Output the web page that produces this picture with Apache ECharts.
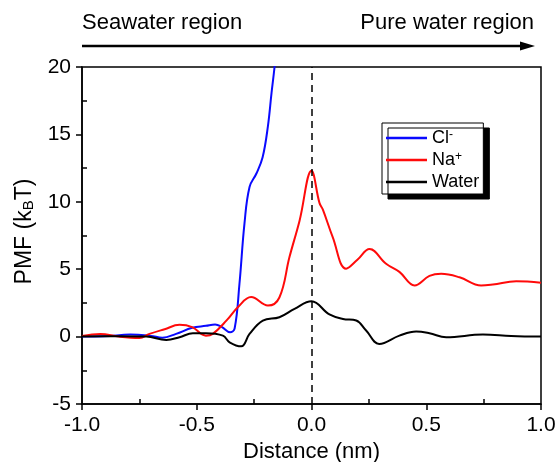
<!DOCTYPE html>
<html><head><meta charset="utf-8">
<script src="https://cdn.jsdelivr.net/npm/echarts@6/dist/echarts.min.js"></script>
<style>html,body{margin:0;padding:0;background:#fff}#c{width:556px;height:462px}</style>
</head><body><div id="c"></div>
<script>
// ---- data ----
const xTickLabels = ['-1.0', '-0.5', '0.0', '0.5', '1.0'];
const yTickLabels = ['-5', '0', '5', '10', '15', '20'];

const clX = [-1.0, -0.9, -0.79, -0.7, -0.65, -0.59, -0.52, -0.46, -0.42, -0.39, -0.355, -0.335, -0.314, -0.292, -0.27, -0.24, -0.213, -0.19, -0.174, -0.161, -0.15];
const clY = [0, 0.02, 0.15, 0.05, -0.08, 0.2, 0.65, 0.8, 0.9, 0.7, 0.32, 0.6, 3.9, 8.4, 11.1, 12.1, 13.3, 15.6, 18.1, 20, 22];

const naX = [-1.0, -0.92, -0.84, -0.75, -0.706, -0.64, -0.575, -0.52, -0.46, -0.43, -0.37, -0.32, -0.263, -0.19, -0.14, -0.096, -0.052, 0, 0.035, 0.05, 0.092, 0.151, 0.2, 0.253, 0.325, 0.383, 0.449, 0.514, 0.565, 0.645, 0.739, 0.79, 0.892, 1.0];
const naY = [0.05, 0.2, 0, -0.1, 0.2, 0.55, 0.87, 0.7, 0.07, 0.2, 1.2, 2.2, 2.93, 2.3, 2.9, 5.9, 8.6, 12.3, 9.9, 9.4, 7.4, 5.04, 5.7, 6.5, 5.4, 4.8, 3.8, 4.5, 4.66, 4.4, 3.8, 3.87, 4.1, 4.0];

const waterX = [-1.0, -0.85, -0.72, -0.633, -0.575, -0.517, -0.46, -0.386, -0.357, -0.306, -0.27, -0.212, -0.14, -0.074, 0, 0.078, 0.137, 0.195, 0.238, 0.295, 0.383, 0.456, 0.514, 0.587, 0.747, 0.87, 1.0];
const waterY = [0, 0.02, 0, -0.25, -0.05, 0.25, 0.25, 0.07, -0.42, -0.72, 0.2, 1.19, 1.44, 2.06, 2.62, 1.64, 1.31, 1.19, 0.45, -0.55, 0.07, 0.38, 0.25, -0.05, 0.15, 0.05, 0.0];

const seriesNames = ['Cl-', 'Na+', 'Water'];
const legendLabels = {'Cl-': 'Cl{sup|-}', 'Na+': 'Na{sup|+}', 'Water': 'Water'};

// ---- chart ----
function pairs(xs, ys) { return xs.map((x, i) => [x, ys[i]]); }
const FONT = '"Liberation Sans", Arial, sans-serif';
const chart = echarts.init(document.getElementById('c'), null, {renderer: 'canvas'});
const xFmt = v => xTickLabels[Math.round((v + 1) / 0.5)];
const yFmt = v => yTickLabels[Math.round((v + 5) / 5)];

chart.setOption({
  animation: false,
  backgroundColor: '#fff',
  grid: {left: 82, right: 15, top: 67, bottom: 58, outerBoundsMode: 'none', containLabel: false,
    show: true, borderColor: '#000', borderWidth: 1.5},
  xAxis: {
    type: 'value', min: -1, max: 1, interval: 0.5,
    axisLine: {onZero: false, lineStyle: {color: '#000', width: 1.5}},
    axisTick: {length: 6, lineStyle: {color: '#000', width: 1.5}},
    minorTick: {show: true, splitNumber: 2, length: -5, lineStyle: {color: '#000', width: 1.5}},
    splitLine: {show: false},
    axisLabel: {color: '#000', fontSize: 21, fontFamily: FONT, margin: 11, formatter: xFmt},
    name: 'Distance (nm)', nameLocation: 'middle', nameGap: 37,
    nameTextStyle: {color: '#000', fontSize: 22, fontFamily: FONT}
  },
  yAxis: {
    type: 'value', min: -5, max: 20, interval: 5,
    axisLine: {onZero: false, lineStyle: {color: '#000', width: 1.5}},
    axisTick: {length: 6, lineStyle: {color: '#000', width: 1.5}},
    minorTick: {show: true, splitNumber: 2, length: -5, lineStyle: {color: '#000', width: 1.5}},
    splitLine: {show: false},
    axisLabel: {color: '#000', fontSize: 21, fontFamily: FONT, margin: 11, formatter: yFmt},
    name: 'PMF (k{sub|B}T)', nameLocation: 'middle', nameGap: 40, nameRotate: 90,
    nameTextStyle: {color: '#000', fontSize: 23, fontFamily: FONT, lineHeight: 24, padding: [0, 0, 0, 8],
      rich: {sub: {fontSize: 15, fontFamily: FONT, color: '#000', verticalAlign: 'bottom', lineHeight: 13}}}
  },
  legend: {
    data: seriesNames.map(n => ({name: n, icon: 'rect'})), left: 382, top: 123, orient: 'vertical',
    itemWidth: 41, itemHeight: 2.5, itemGap: 4, padding: [6, 4, 3, 4],
    backgroundColor: '#fff', borderColor: '#000', borderWidth: 1,
    shadowColor: '#000', shadowBlur: 0, shadowOffsetX: 6, shadowOffsetY: 5,
    formatter: n => legendLabels[n],
    textStyle: {color: '#000', fontSize: 18, fontFamily: FONT, lineHeight: 18,
      rich: {sup: {fontSize: 12, fontFamily: FONT, color: '#000', verticalAlign: 'top', lineHeight: 12}}}
  },
  graphic: [
    {type: 'text', left: 82, top: 12, style: {text: 'Seawater region', font: '22px ' + FONT, fill: '#000'}},
    {type: 'text', right: 22, top: 12, style: {text: 'Pure water region', font: '22px ' + FONT, fill: '#000'}},
    {type: 'line', shape: {x1: 82, y1: 46, x2: 524, y2: 46}, style: {stroke: '#000', lineWidth: 2.5}},
    {type: 'polygon', shape: {points: [[520, 41.5], [535, 46], [520, 50.5]]}, style: {fill: '#000'}}
  ],
  series: [
    {name: 'Cl-', type: 'line', data: pairs(clX, clY), smooth: 0.4, symbol: 'none', clip: true,
      lineStyle: {color: '#0a0aff', width: 2}, itemStyle: {color: '#0a0aff'}},
    {name: 'Na+', type: 'line', data: pairs(naX, naY), smooth: 0.4, symbol: 'none', clip: true,
      lineStyle: {color: '#ff0a0a', width: 2}, itemStyle: {color: '#ff0a0a'}},
    {name: 'Water', type: 'line', data: pairs(waterX, waterY), smooth: 0.4, symbol: 'none', clip: true,
      lineStyle: {color: '#000', width: 2}, itemStyle: {color: '#000'},
      markLine: {symbol: 'none', silent: true, label: {show: false},
        lineStyle: {color: '#000', type: [7, 5], width: 1.5}, data: [{xAxis: 0}]}}
  ]
});
</script></body></html>
